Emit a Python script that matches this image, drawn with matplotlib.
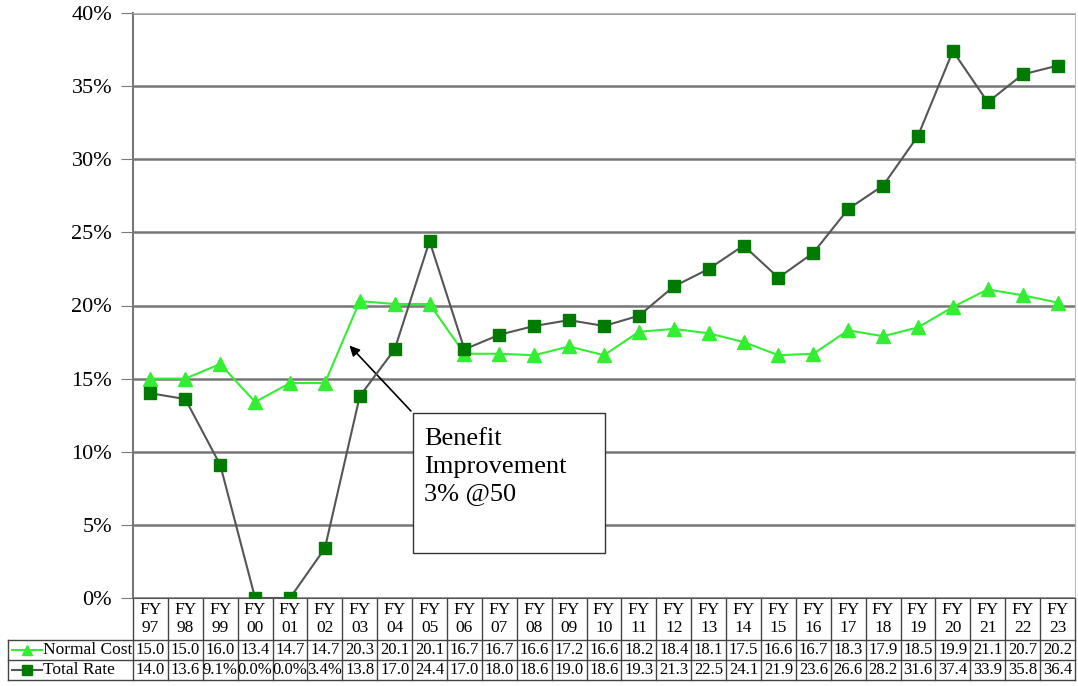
import numpy as np
import matplotlib.pyplot as plt
from matplotlib.patches import Rectangle
from matplotlib.lines import Line2D
import matplotlib.transforms as mtransforms

# data
years = ['97', '98', '99', '00', '01', '02', '03', '04', '05', '06', '07', '08', '09',
         '10', '11', '12', '13', '14', '15', '16', '17', '18', '19', '20', '21', '22', '23']
normal_cost = [15.0, 15.0, 16.0, 13.4, 14.7, 14.7, 20.3, 20.1, 20.1, 16.7, 16.7, 16.6, 17.2,
               16.6, 18.2, 18.4, 18.1, 17.5, 16.6, 16.7, 18.3, 17.9, 18.5, 19.9, 21.1, 20.7, 20.2]
total_rate = [14.0, 13.6, 9.1, 0.0, 0.0, 3.4, 13.8, 17.0, 24.4, 17.0, 18.0, 18.6, 19.0,
              18.6, 19.3, 21.3, 22.5, 24.1, 21.9, 23.6, 26.6, 28.2, 31.6, 37.4, 33.9, 35.8, 36.4]
normal_labels = ['%.1f' % v for v in normal_cost]
total_labels = ['14.0', '13.6', '9.1%', '0.0%', '0.0%', '3.4%'] + ['%.1f' % v for v in total_rate[6:]]

plt.rcParams['font.family'] = ['Liberation Serif', 'DejaVu Serif']

nc_color = '#33ee33'
tr_color = '#007a00'

fig = plt.figure(figsize=(10.78, 6.86), dpi=100)
ax = fig.add_axes([133 / 1078, 88 / 686, 942 / 1078, 585 / 686])

x = np.arange(len(years))
ax.plot(x, normal_cost, color=nc_color, lw=1.5, marker='^', ms=10,
        markerfacecolor=nc_color, markeredgecolor=nc_color, zorder=3)
ax.plot(x, total_rate, color='#555555', lw=1.5, marker='s', ms=9,
        markerfacecolor=tr_color, markeredgecolor=tr_color, zorder=4)

ax.set_xlim(-0.5, len(years) - 0.5)
ax.set_ylim(0, 40)
ax.set_yticks(np.arange(0, 41, 5))
ax.set_yticklabels(['%d%%' % v for v in range(0, 41, 5)], fontsize=16)
ax.set_xticks([])
ax.yaxis.grid(True, color='#777777', lw=1.8)
ax.set_axisbelow(True)
ax.tick_params(axis='y', length=9, color='#777777', pad=6)
for s in ['top', 'right']:
    ax.spines[s].set_color('#bbbbbb')
ax.spines['left'].set_color('#777777')
ax.spines['left'].set_linewidth(1.5)
ax.spines['bottom'].set_color('#555555')

# annotation box
ax.annotate('', xy=(5.65, 17.4), xytext=(7.52, 12.65),
            arrowprops=dict(arrowstyle='-|>', color='black', lw=1.2, mutation_scale=15))
ax.add_patch(Rectangle((7.52, 3.08), 5.5, 9.57, facecolor='white', edgecolor='#333333',
                       lw=1, zorder=5))
ax.text(7.85, 11.6, 'Benefit\nImprovement\n3% @50', fontsize=19, va='top', ha='left',
        linespacing=1.32, zorder=6)

# data table below the axes
trans = mtransforms.blended_transform_factory(ax.transData, ax.transAxes)
h_head = 42 / 585
h_row = 20 / 585
y_head = -h_head
y_r1 = y_head - h_row
y_r2 = y_r1 - h_row
lc = '#444444'
for i, yr in enumerate(years):
    ax.text(i, -h_head / 2, 'FY\n' + yr, transform=trans, ha='center', va='center',
            fontsize=12.5, linespacing=1.1, clip_on=False)
    ax.text(i, y_r1 + h_row / 2, normal_labels[i], transform=trans, ha='center', va='center',
            fontsize=12, clip_on=False)
    ax.text(i, y_r2 + h_row / 2, total_labels[i], transform=trans, ha='center', va='center',
            fontsize=12, clip_on=False)
for b in np.arange(-0.5, len(years), 1.0):
    ax.add_line(Line2D([b, b], [0, y_r2], transform=trans, color=lc, lw=1, clip_on=False))

# row label area
fx0 = 8 / 1078
ax_b = 88 / 686
ax_h = 585 / 686
def fy(v):
    return ax_b + v * ax_h
for yy in [y_head, y_r1, y_r2]:
    fig.add_artist(Line2D([fx0, 1075 / 1078], [fy(yy), fy(yy)], color=lc, lw=1))
fig.add_artist(Line2D([fx0, fx0], [fy(y_head), fy(y_r2)], color=lc, lw=1))
for yy, lab, col, mk, lcol in [(y_r1, 'Normal Cost', nc_color, '^', nc_color),
                               (y_r2, 'Total Rate', tr_color, 's', '#555555')]:
    ym = fy(yy + h_row / 2)
    fig.add_artist(Line2D([12 / 1078, 42 / 1078], [ym, ym], color=lcol, lw=1.5))
    fig.add_artist(Line2D([27 / 1078], [ym], marker=mk, color=col, ms=7, lw=0))
    fig.text(43 / 1078, ym, lab, ha='left', va='center', fontsize=12.5)

fig.savefig('out.png', dpi=100)
